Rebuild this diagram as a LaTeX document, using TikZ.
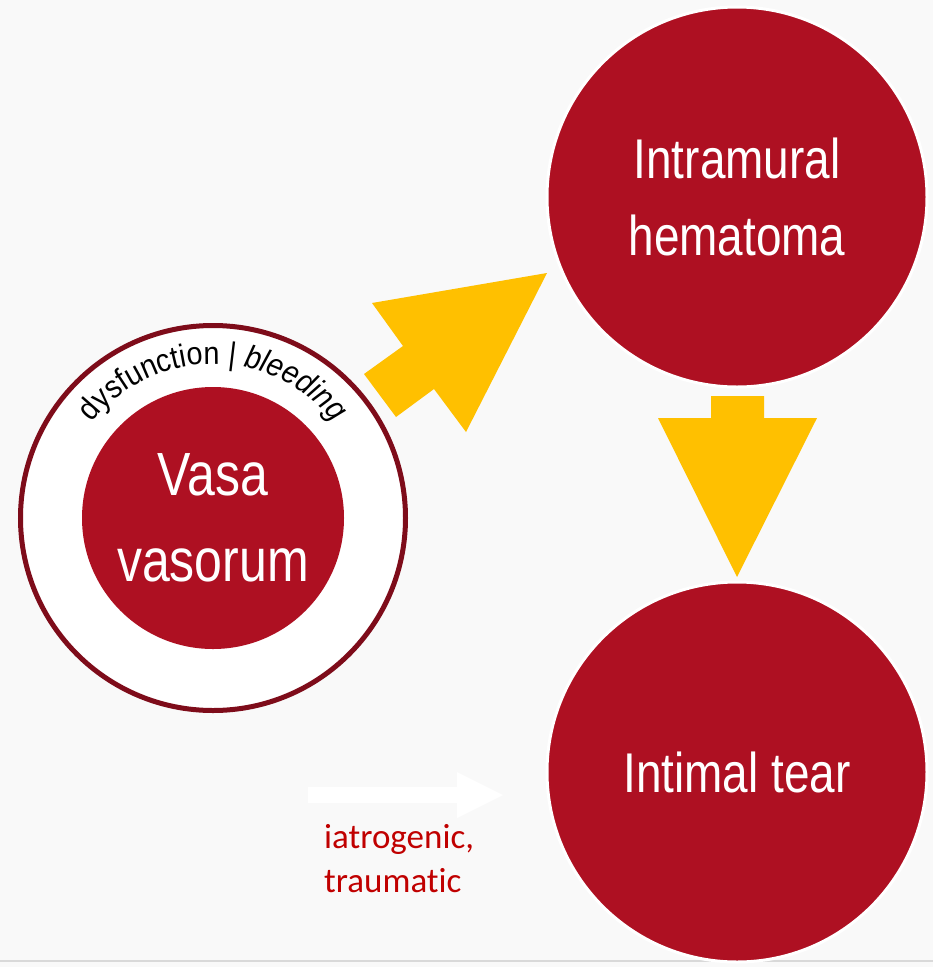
\documentclass[tikz,border=0pt]{standalone}
\usepackage{fontspec}
\usepackage{xcolor}
\newfontfamily\narrowfont[FakeStretch=0.82]{Liberation Sans}
\newfontfamily\arcfont[FakeStretch=0.9]{Liberation Sans}
\newfontfamily\notefont[Ligatures=NoCommon]{Carlito}
\usetikzlibrary{decorations.text}

\definecolor{bubblered}{HTML}{AE1022}
\definecolor{ringred}{HTML}{7E0C1A}
\definecolor{arrowyellow}{HTML}{FFC000}
\definecolor{paper}{HTML}{F9F9F9}
\definecolor{notered}{HTML}{C00000}

\begin{document}
\begin{tikzpicture}[x=1pt,y=1pt]
			\tikzstyle{every node}+=[inner sep=0pt]
			\tikzstyle{bubble}=[circle, fill=bubblered, draw=white, line width=3pt, minimum size=380pt, text=white, align=center, font=\narrowfont\fontsize{56}{77}\selectfont]
			
			\useasboundingbox (0,0) rectangle (933,-967);
			\fill [paper] (0,0) rectangle (933,-967);
			\draw [black!15, line width=2pt] (0,-961) -- (933,-961);
			
			\node [bubble] (hema) at (737,-197) {Intramural\\hematoma};
			\node [bubble] (tear) at (737,-772) {Intimal tear};
			
			\node [circle, fill=white, draw=ringred, line width=5pt, minimum size=385pt] (ring) at (213,-518) {};
			\node [bubble, draw=none, minimum size=262pt, font=\narrowfont\fontsize{61}{86}\selectfont] (vasa) at (213,-518) {Vasa\\vasorum};
			\path [decorate, decoration={text along path, text align=center,
				text={|\arcfont\fontsize{32}{35}\selectfont|dysfunction {\textbar} |\arcfont\itshape\fontsize{32}{35}\selectfont|bleeding}}]
				([shift={(160:154)}]ring.center) arc [start angle=160, end angle=20, radius=154];
			
			\fill [arrowyellow] (364,-374) -- (403,-346) -- (372,-303) -- (547,-273) -- (466,-432) -- (434,-389) -- (396,-417) -- cycle;
			\fill [arrowyellow] (711,-396) -- (764,-396) -- (764,-418) -- (817,-418) -- (737,-577) -- (658,-418) -- (711,-418) -- cycle;
			
			\fill [white] (308,-787) -- (457,-787) -- (457,-772) -- (503,-795) -- (457,-818) -- (457,-803) -- (308,-803) -- cycle;
			\node [anchor=base west, align=left, text=notered, font=\notefont\fontsize{35}{44}\selectfont] (cause) at (324,-892) {iatrogenic,\\traumatic};
\end{tikzpicture}
\end{document}
